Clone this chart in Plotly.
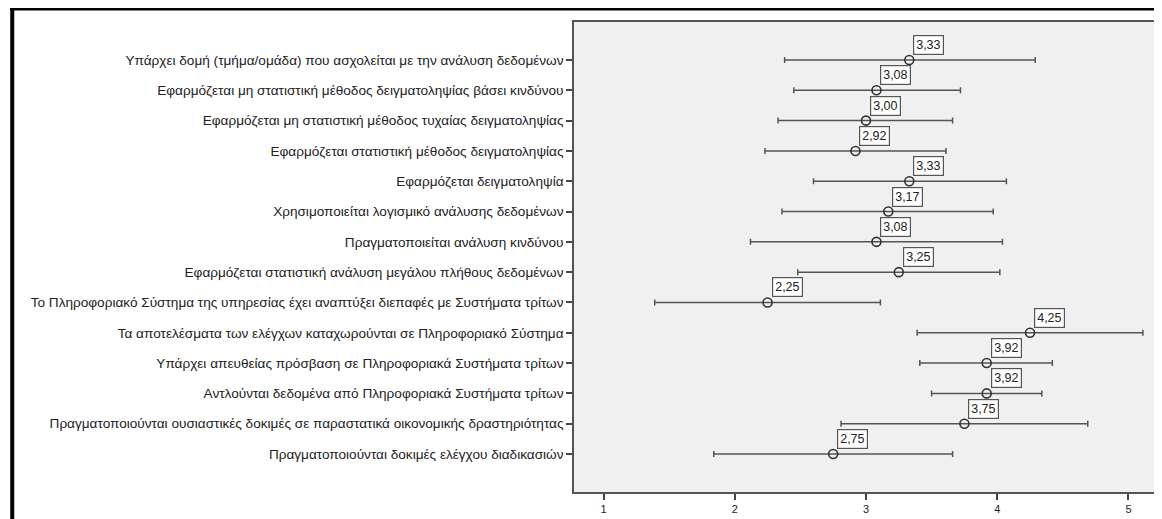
import plotly.graph_objects as go

categories = [
    "Υπάρχει δομή (τμήμα/ομάδα) που ασχολείται με την ανάλυση δεδομένων",
    "Εφαρμόζεται μη στατιστική μέθοδος δειγματοληψίας βάσει κινδύνου",
    "Εφαρμόζεται μη στατιστική μέθοδος τυχαίας δειγματοληψίας",
    "Εφαρμόζεται στατιστική μέθοδος δειγματοληψίας",
    "Εφαρμόζεται δειγματοληψία",
    "Χρησιμοποιείται λογισμικό ανάλυσης δεδομένων",
    "Πραγματοποιείται ανάλυση κινδύνου",
    "Εφαρμόζεται στατιστική ανάλυση μεγάλου πλήθους δεδομένων",
    "Το Πληροφοριακό Σύστημα της υπηρεσίας έχει αναπτύξει διεπαφές με Συστήματα τρίτων",
    "Τα αποτελέσματα των ελέγχων καταχωρούνται σε Πληροφοριακό Σύστημα",
    "Υπάρχει απευθείας πρόσβαση σε Πληροφοριακά Συστήματα τρίτων",
    "Αντλούνται δεδομένα από Πληροφοριακά Συστήματα τρίτων",
    "Πραγματοποιούνται ουσιαστικές δοκιμές σε παραστατικά οικονομικής δραστηριότητας",
    "Πραγματοποιούνται δοκιμές ελέγχου διαδικασιών",
]
means = [3.33, 3.08, 3.00, 2.92, 3.33, 3.17, 3.08, 3.25, 2.25, 4.25, 3.92, 3.92, 3.75, 2.75]
ci_low = [2.38, 2.45, 2.33, 2.23, 2.60, 2.36, 2.12, 2.48, 1.39, 3.39, 3.41, 3.50, 2.81, 1.84]
ci_high = [4.29, 3.72, 3.66, 3.61, 4.07, 3.97, 4.04, 4.02, 3.11, 5.11, 4.42, 4.34, 4.69, 3.66]
x_ticks = [1, 2, 3, 4, 5]

err_plus = [h - m for h, m in zip(ci_high, means)]
err_minus = [m - l for m, l in zip(means, ci_low)]

FONT = "Liberation Sans, Arial, sans-serif"
OFF = 8  # page body margin in the browser
W, H = 1162 - OFF, 519 - OFF
ML, MR, MT, MB = 574 - OFF, 4, 22 - OFF, 27

fig = go.Figure()
fig.add_trace(go.Scatter(
    x=means, y=categories, mode="markers",
    marker=dict(symbol="circle-open", size=9, color="#333333", line=dict(width=1.6, color="#333333")),
    error_x=dict(type="data", symmetric=False, array=err_plus, arrayminus=err_minus,
                 color="#555555", thickness=1.5, width=3),
    showlegend=False, hoverinfo="skip",
))

for c, m in zip(categories, means):
    fig.add_annotation(
        x=m, y=c, xref="x", yref="y", text=f"{m:.2f}".replace(".", ","),
        showarrow=False, xanchor="left", yanchor="bottom", xshift=4, yshift=5,
        bgcolor="white", bordercolor="#555555", borderwidth=1.2, borderpad=2,
        font=dict(family=FONT, size=12.5, color="#222222"),
    )

# outer black frame (top and left edges visible in reference)
pw = W - ML - MR
ph = H - MT - MB
def px_x(p):
    return (p - OFF - ML) / pw
def px_y(p):
    return (H - MB - (p - OFF)) / ph
fig.add_shape(type="line", xref="paper", yref="paper",
              x0=px_x(8), x1=px_x(1170), y0=px_y(8.5), y1=px_y(8.5),
              line=dict(color="black", width=4))
fig.add_shape(type="line", xref="paper", yref="paper",
              x0=px_x(10.3), x1=px_x(10.3), y0=px_y(6.5), y1=px_y(530),
              line=dict(color="black", width=4))

n = len(categories)
fig.update_layout(
    width=W, height=H,
    margin=dict(l=ML, r=MR, t=MT, b=MB, pad=0),
    paper_bgcolor="white", plot_bgcolor="#f0f0f0",
    font=dict(family=FONT, size=12, color="#222222"),
    xaxis=dict(range=[0.775, 5.21], tickvals=x_ticks, ticktext=[str(t) for t in x_ticks],
               showgrid=False, zeroline=False, showline=True, linecolor="#555555", linewidth=1.5,
               mirror=True, ticks="outside", ticklen=6, tickcolor="#444444", tickwidth=1.5,
               tickfont=dict(size=11, color="#222222")),
    yaxis=dict(type="category", categoryorder="array", categoryarray=categories,
               range=[n - 1 + 1.254, -1.254],
               showgrid=False, zeroline=False, showline=True, linecolor="#555555", linewidth=1.5,
               mirror=True, ticks="outside", ticklen=6, tickcolor="#444444", tickwidth=1.5,
               tickfont=dict(size=13.6, color="#222222")),
)

fig.write_html("out.html")
